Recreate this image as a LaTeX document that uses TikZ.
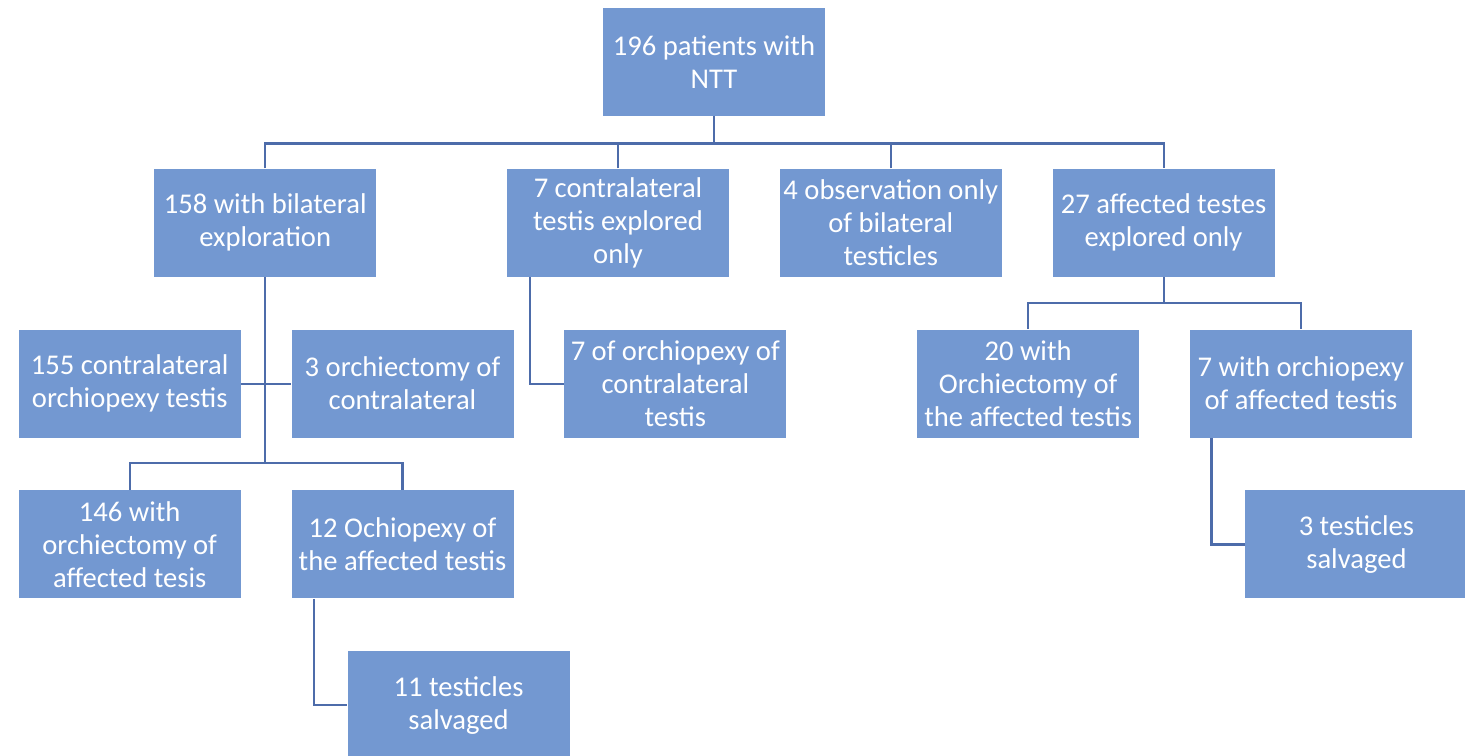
\documentclass[tikz,border=0pt]{standalone}
\usepackage{fontspec}
\setmainfont{Carlito}
\usepackage{xcolor}
\usepackage{tikz}
\usetikzlibrary{positioning}
\definecolor{boxblue}{HTML}{7398D1}
\definecolor{lineblue}{HTML}{4D6CAA}
\tikzset{main box/.style={rectangle,fill=boxblue,text=white,align=center,minimum width=111pt,
            minimum height=54pt,inner sep=0pt,font=\fontsize{14.3}{16.5}\selectfont},
         link/.style={draw=lineblue,line width=1.1pt}
            }

\begin{document}
\begin{tikzpicture}

    \useasboundingbox (0,0) rectangle (732.5pt,-377.5pt);

    \node[main box] (ntt) at (357pt,-31pt) {196 patients with\\NTT};
    \node[main box] (contra) [below = 26pt of ntt, xshift=-48pt] {7 contralateral\\testis explored\\only};
    \node[main box] (obs) [right = 25pt of contra] {4 observation only\\of bilateral\\testicles};
    \node[main box] (aff) [right = 25pt of obs] {27 affected testes\\explored only};
    \node[main box] (bil) [left = 65pt of contra] {158 with bilateral\\exploration};

    \node[main box] (cpexy) [below = 26pt of bil, xshift=-67.75pt] {155 contralateral\\orchiopexy testis};
    \node[main box] (cect) [right = 25pt of cpexy] {3 orchiectomy of\\contralateral};
    \node[main box] (cpexy7) [right = 25pt of cect] {7 of orchiopexy of\\contralateral\\testis};
    \node[main box] (aect) [below = 26pt of aff, xshift=-67.75pt] {20 with\\Orchiectomy of\\the affected testis};
    \node[main box] (apexy) [right = 25pt of aect] {7 with orchiopexy\\of affected testis};

    \node[main box] (aect146) [below = 26pt of cpexy] {146 with\\orchiectomy of\\affected tesis};
    \node[main box] (apexy12) [below = 26pt of cect] {12 Ochiopexy of\\the affected testis};
    \node[main box] (salv3) [below = 26pt of apexy, xshift=27.75pt] {3 testicles\\salvaged};
    \node[main box] (salv11) [below = 26pt of apexy12, xshift=28pt] {11 testicles\\salvaged};

    % first level
    \draw[link] (ntt.south) -- ++(0,-13.5pt) coordinate (bus);
    \draw[link] (bil.north) |- (bus) -| (aff.north);
    \draw[link] (contra.north) -- (contra.north |- bus);
    \draw[link] (obs.north) -- (obs.north |- bus);

    % bilateral branch
    \coordinate (bus2) at ([yshift=13.5pt]aect146.north -| bil.south);
    \draw[link] (bil.south) -- (bus2);
    \draw[link] (aect146.north) |- (bus2) -| (apexy12.north);
    \draw[link] (cpexy.east) -- (cect.west);
    \draw[link] ([xshift=11.5pt]apexy12.south west) |- (salv11.west);

    % contralateral branch
    \draw[link] ([xshift=11.5pt]contra.south west) |- (cpexy7.west);

    % affected branch
    \draw[link] (aff.south) -- ++(0,-13pt) coordinate (bus3);
    \draw[link] (aect.north) |- (bus3) -| (apexy.north);
    \draw[link] ([xshift=11pt]apexy.south west) |- (salv3.west);

\end{tikzpicture}
\end{document}
